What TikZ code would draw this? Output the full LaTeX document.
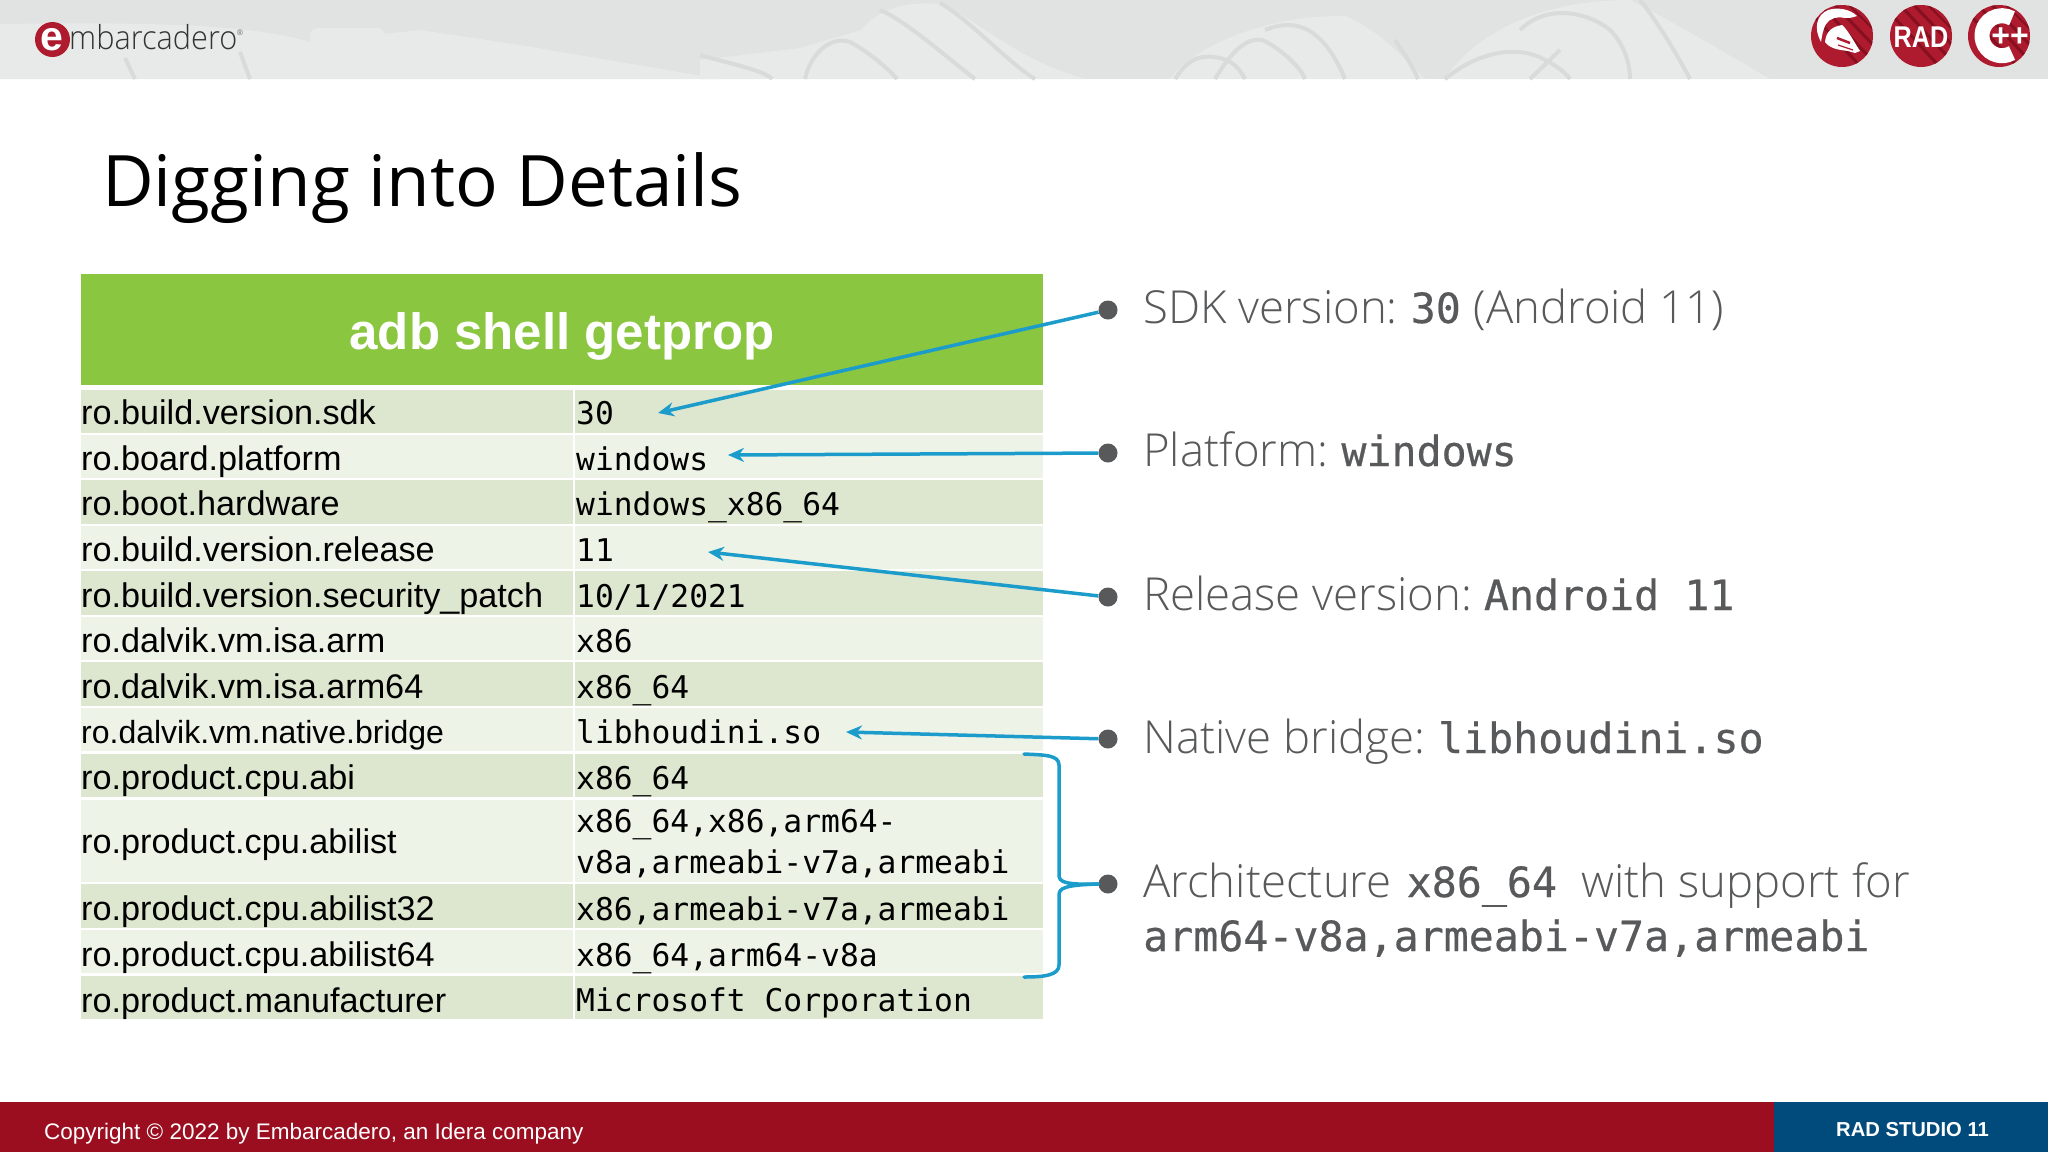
\documentclass[tikz,border=0pt]{standalone}
\usepackage{fontspec}
\setmainfont{Liberation Sans}
\newfontfamily\lightfont{Open Sans Light}
\newfontfamily\titlefont{Open Sans}
\newfontfamily\codefont{DejaVu Sans Mono}
\newfontfamily\sidefont[FakeBold=0.5]{DejaVu Sans Mono}
\usetikzlibrary{arrows.meta}
\definecolor{bandgray}{HTML}{E1E2E2}
\definecolor{bandlight}{HTML}{E8E9E9}
\definecolor{banddark}{HTML}{D9DADA}
\definecolor{iconred}{HTML}{AE1A2E}
\definecolor{icondark}{HTML}{86101F}
\definecolor{footred}{HTML}{9A0E20}
\definecolor{footblue}{HTML}{004B7C}
\definecolor{headgreen}{HTML}{8AC640}
\definecolor{rowdark}{HTML}{DDE7CF}
\definecolor{rowlight}{HTML}{EEF3E8}
\definecolor{calloutblue}{HTML}{1C9CCB}
\definecolor{bulletgray}{HTML}{58595B}
\tikzset{
	keytext/.style={anchor=base west, inner sep=0pt, font=\fontsize{34.2}{34.2}\selectfont},
	valtext/.style={anchor=base west, inner sep=0pt, font=\fontsize{31.3}{31.3}\selectfont\codefont},
	sidetext/.style={anchor=base west, inner sep=0pt, text=bulletgray, font=\fontsize{45.5}{45.5}\selectfont\lightfont},
	bulletdot/.style={circle, fill=bulletgray, minimum size=19pt, inner sep=0pt},
	calloutarrow/.style={line width=3.5pt, color=calloutblue, -{Stealth[length=16pt,width=14pt]}},
	bracket/.style={line width=3.5pt, color=calloutblue, line cap=round},
	swoosh/.style={line width=4pt, color=banddark}
}
\def\redbadge(#1,#2){\fill[iconred] (#1,#2) circle (31);
	\begin{scope}
		\clip (#1,#2) circle (31);
		\draw[line width=3pt, color=icondark] (#1-30,#2-22) -- (#1+18,#2+30);
		\draw[line width=3pt, color=icondark] (#1-20,#2-30) -- (#1+28,#2+22);
		\draw[line width=3pt, color=icondark] (#1-8,#2-32) -- (#1+34,#2+12);
		\draw[line width=2pt, color=icondark] (#1+6,#2-32) -- (#1+34,#2-4);
	\end{scope}}
\newcommand{\sidecode}[1]{{\fontsize{41.6}{41.6}\selectfont\sidefont #1}}

\begin{document}
\begin{tikzpicture}[x=1pt, y=-1pt]
	\useasboundingbox (0, 0) rectangle (2048, 1152);
	\fill[white] (0, 0) rectangle (2048, 1152);

	%%%%% top band %%%%%
	\fill[bandgray] (0, 0) rectangle (2048, 79);
	\fill[bandlight] (0, 24) .. controls (150, 22) and (250, 24) .. (310, 42) -- (420, 30) -- (520, 45) -- (720, 79) -- (0, 79) -- cycle;
	\fill[bandlight, rounded corners=8pt] (310, 28) rectangle (385, 70);
	\draw[swoosh] (125, 58) -- (135, 79);
	\draw[swoosh] (240, 52) -- (250, 79);
	\fill[bandlight] (700, 60) -- (800, 48) -- (861, 30) .. controls (880, 6) and (915, 0) .. (945, 5) .. controls (990, 30) and (1020, 60) .. (1085, 79) -- (700, 79) -- cycle;
	\draw[swoosh] (940, 3) .. controls (970, 20) and (1005, 60) .. (1035, 79);
	\draw[swoosh] (880, 10) .. controls (905, 20) and (950, 60) .. (975, 79);
	\draw[swoosh] (805, 79) .. controls (810, 55) and (830, 35) .. (850, 42) .. controls (865, 50) and (885, 65) .. (897, 79);
	\draw[swoosh] (700, 55) .. controls (715, 60) and (765, 70) .. (772, 79);
	\fill[bandlight] (1170, 79) .. controls (1190, 50) and (1260, 15) .. (1345, 16) .. controls (1380, 30) and (1405, 60) .. (1425, 79) -- cycle;
	\draw[swoosh] (1175, 79) .. controls (1190, 55) and (1205, 55) .. (1220, 58) .. controls (1235, 62) and (1240, 70) .. (1245, 79);
	\draw[swoosh] (1215, 79) .. controls (1235, 45) and (1250, 38) .. (1262, 40) .. controls (1275, 45) and (1300, 65) .. (1305, 79);
	\draw[swoosh] (1265, 30) .. controls (1290, 20) and (1320, 20) .. (1345, 79);
	\draw[swoosh] (1395, 40) .. controls (1405, 55) and (1412, 65) .. (1418, 79);
	\fill[bandlight] (1445, 79) .. controls (1470, 40) and (1530, 0) .. (1630, 0) .. controls (1670, 20) and (1720, 50) .. (1770, 79) -- cycle;
	\draw[swoosh] (1445, 79) .. controls (1480, 50) and (1520, 45) .. (1545, 60) .. controls (1555, 65) and (1565, 72) .. (1570, 79);
	\draw[swoosh] (1520, 30) .. controls (1545, 5) and (1585, 10) .. (1610, 30) .. controls (1625, 45) and (1630, 65) .. (1630, 79);
	\draw[swoosh] (1640, 0) .. controls (1660, 25) and (1680, 60) .. (1690, 79);
	\draw[swoosh] (1560, 50) -- (1530, 79);

	%%%%% logo %%%%%
	\fill[iconred] (52.5, 39.5) circle (17.5);
	\node[anchor=base, inner sep=0pt, text=white] (logoe) at (52, 50) {\fontsize{41}{41}\selectfont\bfseries e};
	\node[anchor=base west, inner sep=0pt, text=black!80, xscale=0.93, transform shape, font=\fontsize{33}{33}\selectfont\lightfont] (logotext) at (69, 49) {mbarcadero};
	\node[inner sep=0pt, text=black!60, font=\fontsize{8}{8}\selectfont] (logoreg) at (240, 33) {®};

	\redbadge(1842,36)
	\redbadge(1921,36)
	\redbadge(1999,36)

	\fill[white] (1821, 42) .. controls (1813, 27) and (1817, 15) .. (1828, 10) .. controls (1838, 7) and (1850, 9) .. (1857, 16) .. controls (1852, 18) and (1848, 18) .. (1845, 18) .. controls (1838, 16) and (1830, 18) .. (1826, 24) .. controls (1823, 29) and (1822, 36) .. (1821, 42) -- cycle;
	\fill[white] (1825, 42) .. controls (1826, 33) and (1830, 27) .. (1842, 25) .. controls (1848, 30) and (1854, 42) .. (1860, 51) -- (1855, 53) -- (1848, 51) .. controls (1840, 50) and (1830, 49) .. (1825, 42) -- cycle;
	\draw[iconred, line width=2.5pt] (1837, 38) -- (1850, 43);
	\draw[iconred, line width=1.2pt] (1838, 45) -- (1853, 50);

	\node[inner sep=0pt, text=white, xscale=0.84, transform shape, font=\fontsize{30}{30}\selectfont\bfseries] (radicon) at (1921, 37) {RAD};

	\draw[white, line width=15pt] (2012, 53) arc[start angle=60, end angle=300, radius=20];
	\node[inner sep=0pt, text=white, font=\fontsize{32}{32}\selectfont\bfseries] (plusplus) at (2010, 37) {++};

	%%%%% title %%%%%
	\node[anchor=base west, inner sep=0pt, font=\fontsize{71}{71}\selectfont\titlefont] (title) at (102, 206) {Digging into Details};

	%%%%% table %%%%%
	\fill[headgreen] (81, 274) rectangle (1043, 385);
	\node[inner sep=0pt, text=white, font=\fontsize{51}{51}\selectfont\bfseries] (tablehead) at (562, 336) {adb shell getprop};

	\fill[rowdark] (81, 390) rectangle (1043, 433);
	\fill[rowlight] (81, 435) rectangle (1043, 478);
	\fill[rowdark] (81, 480) rectangle (1043, 524);
	\fill[rowlight] (81, 526) rectangle (1043, 569);
	\fill[rowdark] (81, 571) rectangle (1043, 615);
	\fill[rowlight] (81, 617) rectangle (1043, 660);
	\fill[rowdark] (81, 662) rectangle (1043, 706);
	\fill[rowlight] (81, 708) rectangle (1043, 751);
	\fill[rowdark] (81, 754) rectangle (1043, 797);
	\fill[rowlight] (81, 800) rectangle (1043, 882);
	\fill[rowdark] (81, 884) rectangle (1043, 928);
	\fill[rowlight] (81, 930) rectangle (1043, 973);
	\fill[rowdark] (81, 976) rectangle (1043, 1019);
	\draw[white, line width=2pt] (574, 390) -- (574, 1019);

	\node[keytext] (key1) at (81, 424) {ro.build.version.sdk};
	\node[keytext] (key2) at (81, 470) {ro.board.platform};
	\node[keytext] (key3) at (81, 515) {ro.boot.hardware};
	\node[keytext] (key4) at (81, 561) {ro.build.version.release};
	\node[keytext] (key5) at (81, 607) {ro.build.version.security\_patch};
	\node[keytext] (key6) at (81, 652) {ro.dalvik.vm.isa.arm};
	\node[keytext] (key7) at (81, 698) {ro.dalvik.vm.isa.arm64};
	\node[keytext, font=\fontsize{32}{32}\selectfont] (key8) at (81, 743) {ro.dalvik.vm.native.bridge};
	\node[keytext] (key9) at (81, 789) {ro.product.cpu.abi};
	\node[keytext] (key10) at (81, 853) {ro.product.cpu.abilist};
	\node[keytext] (key11) at (81, 920) {ro.product.cpu.abilist32};
	\node[keytext] (key12) at (81, 966) {ro.product.cpu.abilist64};
	\node[keytext] (key13) at (81, 1012) {ro.product.manufacturer};

	\node[valtext] (val1) at (576, 424) {30};
	\node[valtext] (val2) at (576, 470) {windows};
	\node[valtext] (val3) at (576, 515) {windows\_x86\_64};
	\node[valtext] (val4) at (576, 561) {11};
	\node[valtext] (val5) at (576, 607) {10/1/2021};
	\node[valtext] (val6) at (576, 652) {x86};
	\node[valtext] (val7) at (576, 698) {x86\_64};
	\node[valtext] (val8) at (576, 743) {libhoudini.so};
	\node[valtext] (val9) at (576, 789) {x86\_64};
	\node[valtext] (val10a) at (576, 832) {x86\_64,x86,arm64-};
	\node[valtext] (val10b) at (576, 873) {v8a,armeabi-v7a,armeabi};
	\node[valtext] (val11) at (576, 920) {x86,armeabi-v7a,armeabi};
	\node[valtext] (val12) at (576, 966) {x86\_64,arm64-v8a};
	\node[valtext] (val13) at (576, 1011) {Microsoft Corporation};

	%%%%% right column %%%%%
	\node[bulletdot] (dotsdk) at (1108, 310) {};
	\node[bulletdot] (dotplat) at (1108, 453) {};
	\node[bulletdot] (dotrel) at (1108, 597) {};
	\node[bulletdot] (dotnat) at (1108, 739) {};
	\node[bulletdot] (dotarch) at (1108, 884) {};

	\node[sidetext] (sidesdk) at (1143, 323) {SDK version:\hspace{13pt}\sidecode{30}\hspace{1pt} (Android 11)};
	\node[sidetext] (sideplat) at (1143, 466) {Platform:\hspace{13pt}\sidecode{windows}};
	\node[sidetext] (siderel) at (1143, 610) {Release version:\hspace{12pt}\sidecode{Android 11}};
	\node[sidetext] (sidenat) at (1143, 753) {Native bridge:\hspace{13pt}\sidecode{libhoudini.so}};
	\node[sidetext] (sidearch) at (1143, 897) {Architecture\hspace{15pt}\sidecode{x86\_64}\hspace{12.5pt} with support for};
	\node[sidetext] (sidearchb) at (1143, 951) {\sidecode{arm64-v8a,armeabi-v7a,armeabi}};

	\coordinate (tipsdk) at (658, 413);
	\coordinate (tipplat) at (728, 455);
	\coordinate (tiprel) at (708, 552);
	\coordinate (tipnat) at (846, 732);
	\draw[calloutarrow] (dotsdk) -- (tipsdk);
	\draw[calloutarrow] (dotplat) -- (tipplat);
	\draw[calloutarrow] (dotrel) -- (tiprel);
	\draw[calloutarrow] (dotnat) -- (tipnat);

	\coordinate (bracetop) at (1024, 754);
	\coordinate (bracebot) at (1024, 977);
	\draw[bracket] (bracetop) .. controls (1045, 755) and (1059, 755) .. (1059, 765) -- (1059, 875) .. controls (1059, 882) and (1065, 885) .. (dotarch.west);
	\draw[bracket] (dotarch.west) .. controls (1065, 885) and (1059, 888) .. (1059, 895) -- (1059, 965) .. controls (1059, 975) and (1045, 977) .. (bracebot);

	%%%%% footer %%%%%
	\fill[footred] (0, 1102) rectangle (1774, 1152);
	\fill[footblue] (1774, 1102) rectangle (2048, 1152);
	\node[anchor=base west, inner sep=0pt, text=white, font=\fontsize{22.5}{22.5}\selectfont] (copyright) at (44, 1139) {Copyright © 2022 by Embarcadero, an Idera company};
	\node[anchor=base west, inner sep=0pt, text=white, font=\fontsize{20.2}{20.2}\selectfont\bfseries] (studio) at (1836, 1136) {RAD STUDIO 11};
\end{tikzpicture}
\end{document}
